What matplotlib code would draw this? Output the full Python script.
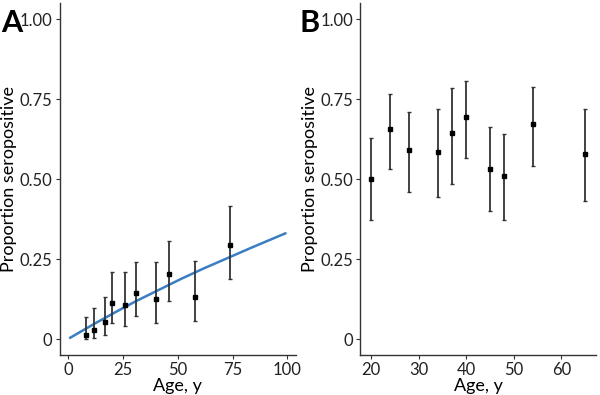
import matplotlib
matplotlib.use("Agg")
import matplotlib.pyplot as plt
import numpy as np

plt.rcParams['font.family'] = ['Lato', 'DejaVu Sans']

# Panel A data
a_age = [8, 12, 17, 20, 26, 31, 40, 46, 58, 74]
a_prop = [0.012, 0.028, 0.054, 0.112, 0.106, 0.143, 0.125, 0.202, 0.132, 0.294]
a_low = [0.000, 0.002, 0.013, 0.049, 0.042, 0.072, 0.050, 0.119, 0.057, 0.188]
a_high = [0.068, 0.098, 0.132, 0.210, 0.210, 0.242, 0.242, 0.307, 0.245, 0.417]

# Fitted curve
fit_age = [1, 10, 20, 30, 40, 50, 60, 70, 80, 90, 99]
fit_prop = [0.004, 0.040, 0.078, 0.115, 0.149, 0.183, 0.215, 0.245, 0.275, 0.304, 0.330]

# Panel B data
b_age = [20, 24, 28, 34, 37, 40, 45, 48, 54, 65]
b_prop = [0.500, 0.656, 0.590, 0.584, 0.643, 0.693, 0.531, 0.508, 0.672, 0.579]
b_low = [0.372, 0.530, 0.460, 0.443, 0.483, 0.565, 0.401, 0.372, 0.542, 0.432]
b_high = [0.629, 0.767, 0.709, 0.719, 0.784, 0.805, 0.663, 0.641, 0.786, 0.719]

yticks = [0, 0.25, 0.5, 0.75, 1.0]
ytick_labels = ['0', '0.25', '0.50', '0.75', '1.00']
a_xticks = [0, 25, 50, 75, 100]
b_xticks = [20, 30, 40, 50, 60]

fig = plt.figure(figsize=(6.0, 3.95), dpi=100)
axA = fig.add_axes([59.5/600, 40/395, (296-59.5)/600, 352/395])
axB = fig.add_axes([360.3/600, 40/395, (596-360.3)/600, 352/395])

ecol = '#333333'
for ax, age, prop, lo, hi in [(axA, a_age, a_prop, a_low, a_high),
                              (axB, b_age, b_prop, b_low, b_high)]:
    prop = np.array(prop); lo = np.array(lo); hi = np.array(hi)
    ax.errorbar(age, prop, yerr=[prop - lo, hi - prop], fmt='s', color='black',
                ecolor=ecol, elinewidth=1.3, capsize=1.6, capthick=1.0,
                markersize=2.4, zorder=3)
    ax.set_ylim(-0.05, 1.05)
    ax.set_yticks(yticks)
    ax.set_yticklabels(ytick_labels)
    for s in ['top', 'right']:
        ax.spines[s].set_visible(False)
    for s in ['left', 'bottom']:
        ax.spines[s].set_color('#333333')
        ax.spines[s].set_linewidth(1.0)
    ax.tick_params(axis='both', length=3, width=0.8, color='#333333',
                   labelsize=12, labelcolor='#222222', pad=2)
    ax.set_ylabel('Proportion seropositive', fontsize=13, labelpad=2)
    ax.set_xlabel('Age, y', fontsize=13, labelpad=0)

# Smooth fit line
xs = np.linspace(fit_age[0], fit_age[-1], 200)
ys = np.interp(xs, fit_age, fit_prop)
axA.plot(xs, ys, color='#3a7dc2', linewidth=1.8, zorder=2)

axA.set_xlim(-3.9, 103.9)
axA.set_xticks(a_xticks)
axB.set_xlim(17.75, 67.25)
axB.set_xticks(b_xticks)

fig.text(1/600, 1 - 32/395, 'A', fontsize=22, fontweight='bold', ha='left', va='baseline')
fig.text(300/600, 1 - 32/395, 'B', fontsize=22, fontweight='bold', ha='left', va='baseline')

fig.savefig('out.png', dpi=100)
